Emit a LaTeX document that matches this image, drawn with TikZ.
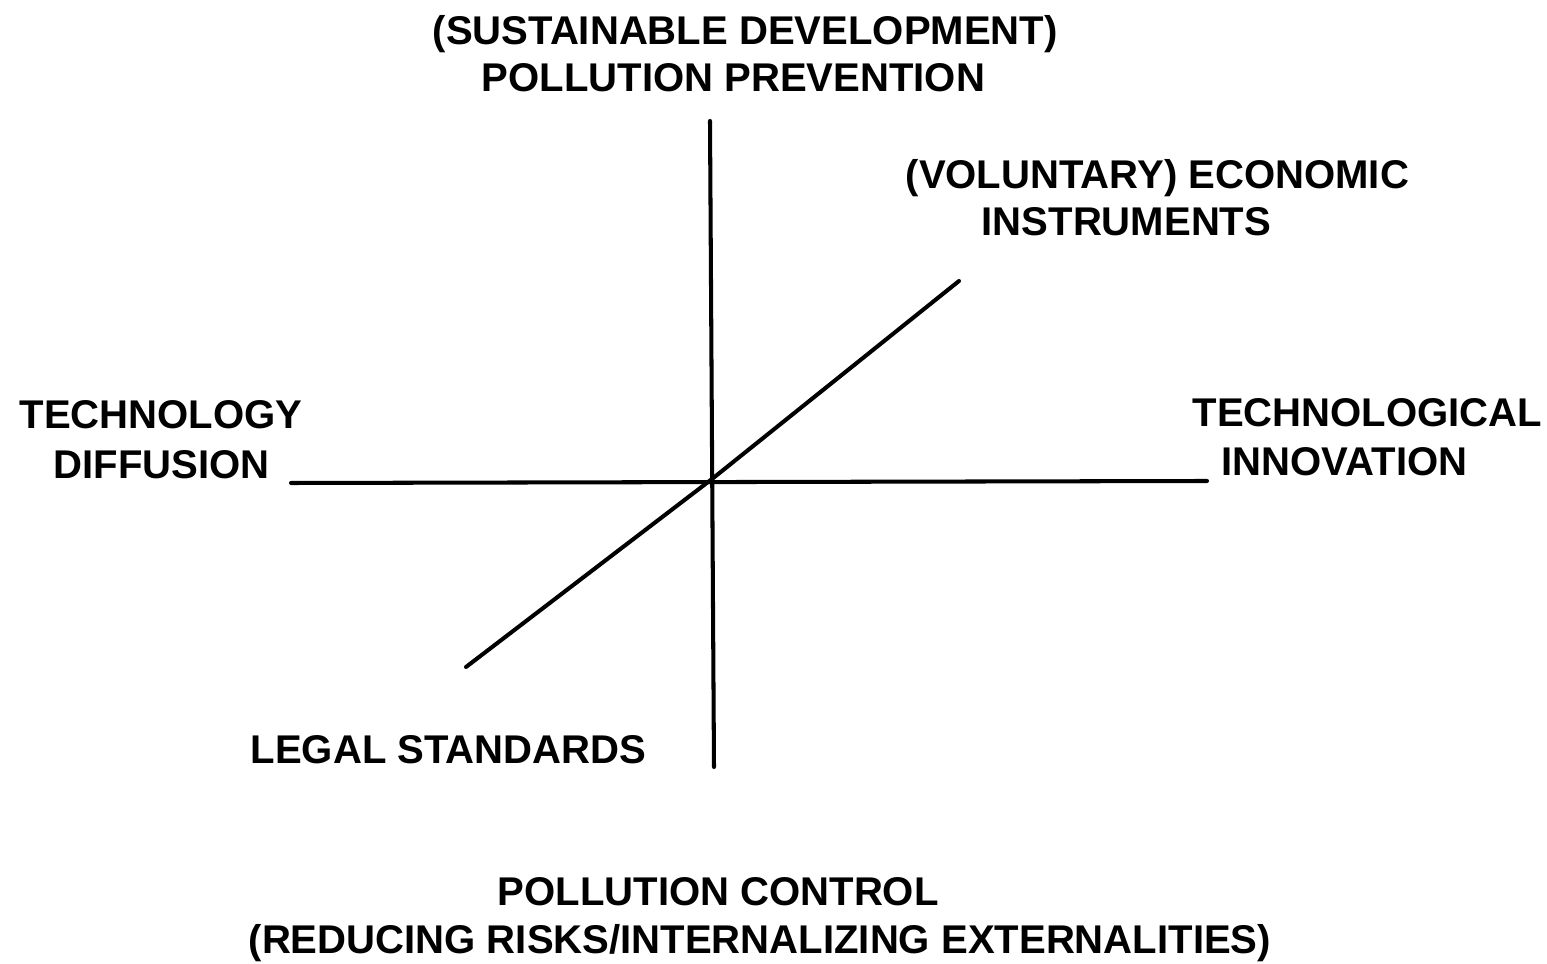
\documentclass[tikz,border=0pt]{standalone}
\usepackage{fontspec}
\setmainfont{Liberation Sans}
\begin{document}
\begin{tikzpicture}[x=0.01cm,y=-0.01cm,
  lbl/.style={anchor=base west,inner sep=0pt,font=\fontsize{11.4pt}{13.4pt}\selectfont\bfseries},
  axis/.style={line width=1.15pt,line cap=round,line join=round}]
\useasboundingbox (0,0) rectangle (1547,964);
% axis end points
\coordinate (vtop) at (710,121);
\coordinate (vbot) at (714,767);
\coordinate (hl) at (291,483);
\coordinate (hr) at (1207,481);
\coordinate (dlo) at (466,667);
\coordinate (orig) at (712,479);
\coordinate (dhi) at (959,281);
\draw[axis] (vtop) -- (vbot);
\draw[axis] (hl) -- (hr);
\draw[axis] (dlo) -- (orig) -- (dhi);
% labels
\node[lbl] (sd1) at (432,45) {(SUSTAINABLE DEVELOPMENT)};
\node[lbl] (sd2) at (481,92) {POLLUTION PREVENTION};
\node[lbl] (ei1) at (905,189) {(VOLUNTARY) ECONOMIC};
\node[lbl] (ei2) at (981,236) {INSTRUMENTS};
\node[lbl] (td1) at (19,429) {TECHNOLOGY};
\node[lbl] (td2) at (53,479) {DIFFUSION};
\node[lbl] (ti1) at (1192,427) {TECHNOLOGICAL};
\node[lbl] (ti2) at (1221,476) {INNOVATION};
\node[lbl] (ls) at (250,764) {LEGAL STANDARDS};
\node[lbl] (pc1) at (497,906) {POLLUTION CONTROL};
\node[lbl] (pc2) at (248,954) {(REDUCING RISKS/INTERNALIZING EXTERNALITIES)};
\end{tikzpicture}
\end{document}
